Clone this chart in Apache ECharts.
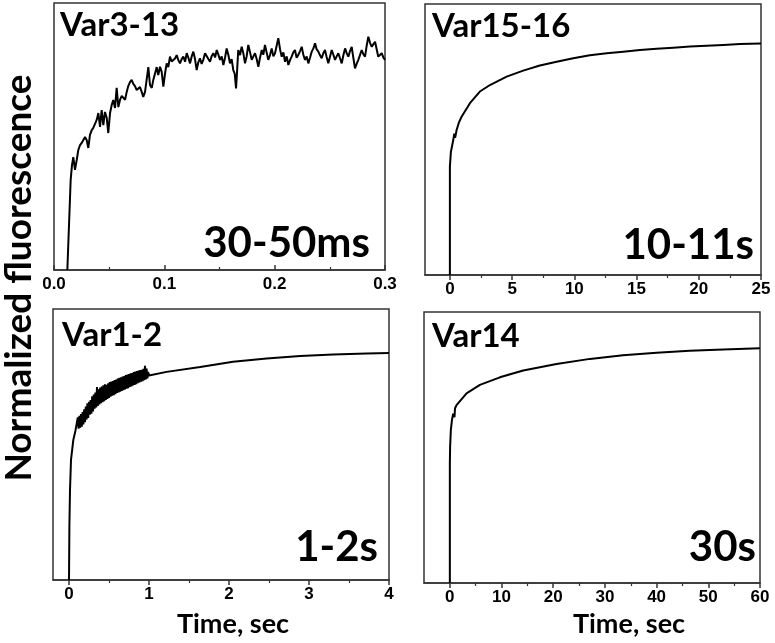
<!DOCTYPE html>
<html>
<head>
<meta charset="utf-8">
<script src="https://cdn.jsdelivr.net/npm/echarts@6/dist/echarts.min.js"></script>
<style>
html,body{margin:0;padding:0;background:#fff;}
#c{width:775px;height:643px;}
</style>
</head>
<body>
<div id="c"></div>
<script>
// ---------- DATA ----------
const panelNames = ['Var3-13', 'Var15-16', 'Var1-2', 'Var14'];
const timeLabels = ['30-50ms', '10-11s', '1-2s', '30s'];
const yTitle = 'Normalized fluorescence';
const xTitle = 'Time, sec';

// x-axis ranges [min, max]
const xRange1 = [0, 0.3];
const xRange2 = [-2, 25];
const xRange3 = [-0.2, 4];
const xRange4 = [-5, 60];

// labelled (major) ticks and minor ticks
const ticks1 = [0, 0.1, 0.2, 0.3];
const minor1 = [0.05, 0.15, 0.25];
const ticks2 = [0, 5, 10, 15, 20, 25];
const minor2 = [2.5, 7.5, 12.5, 17.5, 22.5];
const ticks3 = [0, 1, 2, 3, 4];
const minor3 = [0.5, 1.5, 2.5, 3.5];
const ticks4 = [0, 10, 20, 30, 40, 50, 60];
const minor4 = [5, 15, 25, 35, 45, 55];

// Var3-13 : [time s, normalized fluorescence]
const var3_13 = [
 [0.0121,0],[0.0151,0.337],[0.0163,0.393],[0.0175,0.423],[0.0190,0.375],[0.0206,0.412],
 [0.0220,0.449],[0.0236,0.468],[0.0251,0.476],[0.0266,0.487],[0.0281,0.498],[0.0296,0.487],
 [0.0311,0.457],[0.0326,0.506],[0.0342,0.524],[0.0356,0.532],[0.0372,0.539],[0.0387,0.562],
 [0.0402,0.588],[0.0417,0.536],[0.0432,0.599],[0.0447,0.543],[0.0462,0.592],[0.0478,0.569],
 [0.0492,0.513],[0.0508,0.588],[0.0523,0.618],[0.0537,0.637],[0.0553,0.607],[0.0568,0.682],
 [0.0583,0.610],[0.0598,0.637],[0.0614,0.652],[0.0628,0.648],[0.0644,0.637],[0.0659,0.667],
 [0.0673,0.689],[0.0689,0.704],[0.0704,0.712],[0.0719,0.697],[0.0734,0.689],[0.0750,0.674],
 [0.0764,0.667],[0.0779,0.685],[0.0795,0.667],[0.0809,0.648],[0.0825,0.667],[0.0840,0.674],
 [0.0855,0.760],[0.0870,0.693],[0.0886,0.682],[0.0900,0.712],[0.0915,0.719],[0.0931,0.760],
 [0.0945,0.730],[0.0961,0.761],[0.0976,0.742],[0.0991,0.687],[0.1006,0.735],[0.1021,0.774],
 [0.1036,0.760],[0.1051,0.799],[0.1066,0.781],[0.1081,0.774],[0.1097,0.792],[0.1112,0.805],
 [0.1127,0.786],[0.1142,0.774],[0.1157,0.790],[0.1172,0.799],[0.1188,0.780],[0.1203,0.812],
 [0.1218,0.795],[0.1233,0.774],[0.1248,0.800],[0.1263,0.818],[0.1278,0.790],[0.1293,0.749],
 [0.1308,0.778],[0.1323,0.793],[0.1338,0.772],[0.1353,0.787],[0.1369,0.812],[0.1384,0.805],
 [0.1399,0.790],[0.1414,0.780],[0.1429,0.801],[0.1444,0.812],[0.1460,0.796],[0.1475,0.824],
 [0.1490,0.806],[0.1505,0.787],[0.1520,0.800],[0.1535,0.768],[0.1550,0.795],[0.1565,0.830],
 [0.1580,0.806],[0.1595,0.774],[0.1610,0.790],[0.1625,0.749],[0.1638,0.735],[0.1650,0.680],
 [0.1660,0.750],[0.1670,0.824],[0.1686,0.805],[0.1701,0.836],[0.1716,0.812],[0.1731,0.774],
 [0.1746,0.800],[0.1761,0.843],[0.1777,0.815],[0.1792,0.787],[0.1807,0.800],[0.1822,0.812],
 [0.1837,0.790],[0.1852,0.761],[0.1867,0.795],[0.1883,0.824],[0.1897,0.806],[0.1912,0.843],
 [0.1927,0.815],[0.1942,0.787],[0.1958,0.805],[0.1973,0.830],[0.1988,0.800],[0.2003,0.812],
 [0.2018,0.840],[0.2033,0.868],[0.2049,0.826],[0.2064,0.799],[0.2079,0.815],[0.2094,0.780],
 [0.2109,0.800],[0.2124,0.768],[0.2139,0.786],[0.2154,0.799],[0.2169,0.815],[0.2184,0.824],
 [0.2199,0.795],[0.2214,0.805],[0.2230,0.820],[0.2245,0.836],[0.2260,0.806],[0.2275,0.787],
 [0.2290,0.800],[0.2305,0.774],[0.2321,0.796],[0.2336,0.818],[0.2351,0.830],[0.2366,0.849],
 [0.2381,0.826],[0.2396,0.818],[0.2411,0.804],[0.2426,0.793],[0.2441,0.812],[0.2456,0.824],
 [0.2471,0.798],[0.2486,0.774],[0.2502,0.800],[0.2517,0.824],[0.2532,0.806],[0.2547,0.787],
 [0.2562,0.800],[0.2577,0.812],[0.2593,0.792],[0.2608,0.774],[0.2623,0.805],[0.2638,0.830],
 [0.2653,0.812],[0.2668,0.799],[0.2683,0.820],[0.2698,0.836],[0.2713,0.795],[0.2728,0.755],
 [0.2743,0.772],[0.2758,0.787],[0.2774,0.806],[0.2789,0.824],[0.2804,0.808],[0.2819,0.799],
 [0.2834,0.840],[0.2849,0.874],[0.2865,0.850],[0.2880,0.836],[0.2895,0.846],[0.2910,0.855],
 [0.2925,0.826],[0.2939,0.799],[0.2955,0.806],[0.2970,0.812],[0.2985,0.796],[0.3000,0.787]
];

// Var15-16
const var15_16 = [
 [0,0],[0,0.40],[0.08,0.454],[0.27,0.498],[0.35,0.522],[0.42,0.506],[0.54,0.535],[0.62,0.528],
 [0.72,0.562],[0.82,0.556],[0.94,0.584],[1.61,0.634],[2.41,0.677],[3.22,0.701],[4.56,0.732],
 [5.89,0.754],[7.23,0.773],[8.58,0.787],[9.91,0.800],[11.25,0.811],[12.6,0.818],[13.93,0.824],
 [15.27,0.830],[16.61,0.835],[17.95,0.839],[19.29,0.843],[20.63,0.846],[21.97,0.849],
 [23.31,0.852],[25,0.854]
];

// Var1-2
const var1_2 = [
 [0,0],[0.005,0.20],[0.0125,0.332],[0.025,0.443],[0.054,0.517],[0.08,0.55],
 [0.10,0.552],[0.11,0.600],[0.12,0.558],[0.13,0.606],[0.14,0.562],[0.15,0.612],[0.16,0.566],
 [0.17,0.620],[0.18,0.574],[0.19,0.630],[0.20,0.582],[0.21,0.640],[0.22,0.592],[0.23,0.652],
 [0.24,0.598],[0.25,0.658],[0.26,0.610],[0.27,0.664],[0.28,0.614],[0.29,0.678],[0.30,0.622],
 [0.31,0.684],[0.32,0.632],[0.33,0.692],[0.34,0.637],[0.35,0.712],[0.36,0.642],[0.37,0.704],
 [0.38,0.648],[0.39,0.710],[0.40,0.652],[0.41,0.714],[0.42,0.656],[0.43,0.718],[0.44,0.660],
 [0.45,0.722],[0.46,0.664],[0.47,0.720],[0.48,0.668],[0.49,0.726],[0.50,0.672],[0.51,0.730],
 [0.52,0.676],[0.53,0.732],[0.54,0.680],[0.55,0.734],[0.56,0.682],[0.57,0.738],[0.58,0.686],
 [0.59,0.740],[0.60,0.690],[0.61,0.743],[0.62,0.692],[0.63,0.746],[0.64,0.695],[0.65,0.748],
 [0.66,0.698],[0.67,0.751],[0.68,0.700],[0.69,0.753],[0.70,0.703],[0.71,0.756],[0.72,0.706],
 [0.73,0.758],[0.74,0.708],[0.75,0.760],[0.76,0.712],[0.77,0.763],[0.78,0.714],[0.79,0.764],
 [0.80,0.718],[0.81,0.767],[0.82,0.720],[0.83,0.769],[0.84,0.723],[0.85,0.771],[0.86,0.726],
 [0.87,0.773],[0.88,0.729],[0.89,0.775],[0.90,0.732],[0.91,0.776],[0.92,0.734],[0.93,0.779],
 [0.94,0.737],[0.95,0.790],[0.96,0.740],[0.97,0.780],[0.98,0.744],[0.99,0.768],[1.00,0.755],
 [1.22,0.768],[1.64,0.786],[2.05,0.805],[2.47,0.817],[2.89,0.827],[3.30,0.832],[3.72,0.836],
 [4.0,0.838]
];

// Var14
const var14 = [
 [0,0],[0,0.44],[0.05,0.50],[0.19,0.564],[0.4,0.600],[0.64,0.625],[0.9,0.612],[1.0,0.645],
 [1.29,0.656],[3.23,0.700],[5.81,0.731],[9.68,0.759],[14.19,0.784],[20.64,0.808],[27.1,0.827],
 [33.5,0.840],[40.0,0.850],[46.4,0.857],[52.9,0.862],[60,0.866]
];

// ---------- CHART ----------
const chart = echarts.init(document.getElementById('c'), null, {renderer: 'canvas'});
const frame = '#333';
const grids = [
  {left: 54, top: 3, width: 331, height: 267},
  {left: 425, top: 4, width: 336, height: 271},
  {left: 53, top: 309, width: 336, height: 271},
  {left: 424, top: 312, width: 336, height: 271}
].map(g => Object.assign(g, {show: true, borderColor: frame, borderWidth: 1.5, backgroundColor: 'transparent', containLabel: false}));

const ranges = [xRange1, xRange2, xRange3, xRange4];
const majors = [ticks1, ticks2, ticks3, ticks4];
const minors = [minor1, minor2, minor3, minor4];
const datasets = [var3_13, var15_16, var1_2, var14];
const inside = [true, false, false, false];
// label step: each axis's min is a multiple of its step; only values in the tick list are printed
const labelStep = [0.1, 0.5, 0.2, 5];

const xAxes = [];
ranges.forEach((r, i) => {
  const list = majors[i];
  const isMajor = v => list.some(t => Math.abs(t - v) < 1e-6);
  xAxes.push({
    type: 'value', gridIndex: i, min: r[0], max: r[1], interval: labelStep[i], position: 'bottom',
    splitLine: {show: false},
    axisLine: {show: true, onZero: false, lineStyle: {color: frame, width: 1.5}},
    axisTick: {show: true, customValues: list, length: 5, inside: inside[i], lineStyle: {color: frame, width: 1.5}},
    axisLabel: {show: true, margin: 6, hideOverlap: false,
      showMinLabel: true, showMaxLabel: true,
      formatter: v => isMajor(v) ? (i === 0 ? Number(v).toFixed(1) : String(Math.round(v))) : '',
      fontFamily: 'Liberation Sans', fontWeight: 'bold', fontSize: 17, color: '#000'}
  });
  xAxes.push({
    type: 'value', gridIndex: i, min: r[0], max: r[1], position: 'bottom',
    splitLine: {show: false},
    axisLine: {show: false, onZero: false},
    axisTick: {show: true, customValues: minors[i], length: 3, inside: inside[i], lineStyle: {color: frame, width: 1.2}},
    axisLabel: {show: false}
  });
});

const yAxes = ranges.map((r, i) => ({type: 'value', gridIndex: i, min: 0, max: 1, show: false}));

const series = datasets.map((d, i) => ({
  type: 'line', xAxisIndex: i * 2, yAxisIndex: i, data: d,
  showSymbol: false, symbol: 'none', smooth: false,
  lineStyle: {color: '#000', width: 2}, clip: true, animation: false
}));

function txt(str, x, y, size, align, rot) {
  return {
    type: 'text', x: x, y: y, rotation: rot || 0, silent: true,
    style: {
      text: str, fill: '#000',
      font: 'bold ' + size + 'px Lato',
      align: align, textAlign: align,
      verticalAlign: 'middle', textVerticalAlign: 'middle'
    }
  };
}

const nameSpots = [[60, 25], [432, 26], [62, 335], [432, 336]];
const timeSpots = [[370, 243], [754, 245], [378, 547], [756, 547]];
const graphics = [];
panelNames.forEach((n, i) => graphics.push(txt(n, nameSpots[i][0], nameSpots[i][1], 33, 'left')));
timeLabels.forEach((n, i) => graphics.push(txt(n, timeSpots[i][0], timeSpots[i][1], 42, 'right')));
graphics.push(txt(yTitle, 19, 278, 37, 'center', Math.PI / 2));
graphics.push(txt(xTitle, 233, 624, 27, 'center'));
graphics.push(txt(xTitle, 629, 624, 27, 'center'));

chart.setOption({
  animation: false,
  backgroundColor: '#fff',
  grid: grids,
  xAxis: xAxes,
  yAxis: yAxes,
  series: series,
  graphic: graphics
});
</script>
</body>
</html>
